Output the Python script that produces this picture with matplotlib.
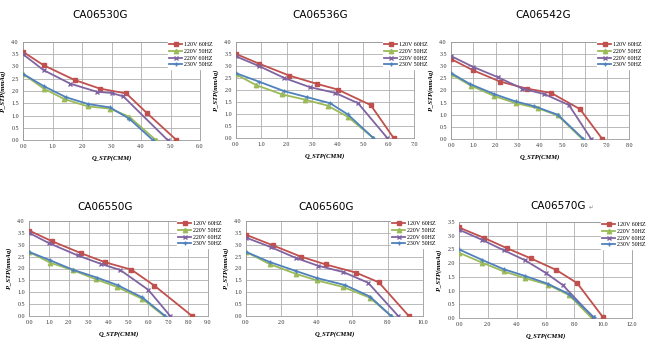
import numpy as np
import matplotlib
matplotlib.use('Agg')
import matplotlib.pyplot as plt

W, H = 648, 349

titles = ['CA06530G', 'CA06536G', 'CA06542G', 'CA06550G', 'CA06560G', 'CA06570G']
series_names = ['120V 60HZ', '220V 50HZ', '220V 60HZ', '230V 50HZ']

# (x values, y values) per series, per panel
red_30 = ([0, 0.7, 1.75, 2.6, 3.5, 4.2, 5.2], [3.6, 3.05, 2.45, 2.1, 1.9, 1.1, 0])
green_30 = ([0, 0.7, 1.4, 2.2, 2.95, 3.6, 4.5], [2.7, 2.1, 1.67, 1.37, 1.28, 0.95, 0])
purple_30 = ([0, 0.7, 1.6, 2.5, 3.0, 3.4, 4.9], [3.5, 2.85, 2.3, 1.97, 1.92, 1.78, 0])
blue_30 = ([0, 0.7, 1.45, 2.2, 2.95, 3.6, 4.4], [2.7, 2.2, 1.75, 1.47, 1.33, 0.87, 0])

red_36 = ([0, 0.9, 2.1, 3.2, 4.0, 5.3, 6.2], [3.5, 3.1, 2.6, 2.25, 2.02, 1.37, 0])
green_36 = ([0, 0.8, 1.8, 2.7, 3.6, 4.4, 5.4], [2.65, 2.2, 1.82, 1.6, 1.35, 0.88, 0])
purple_36 = ([0, 0.9, 1.9, 2.9, 3.9, 4.8, 5.95], [3.4, 3.0, 2.5, 2.12, 1.88, 1.45, 0])
blue_36 = ([0, 0.9, 1.9, 2.8, 3.7, 4.4, 5.4], [2.7, 2.35, 1.95, 1.7, 1.45, 0.98, 0])

red_42 = ([0, 1.0, 2.2, 3.4, 4.5, 5.8, 6.8], [3.3, 2.83, 2.37, 2.08, 1.9, 1.23, 0])
green_42 = ([0, 0.9, 1.95, 2.9, 3.9, 4.8, 5.9], [2.67, 2.2, 1.77, 1.48, 1.27, 0.97, 0])
purple_42 = ([0, 1.0, 2.1, 3.2, 4.2, 5.3, 6.3], [3.42, 2.97, 2.55, 2.08, 1.85, 1.4, 0])
blue_42 = ([0, 0.85, 1.95, 2.9, 3.75, 4.8, 5.95], [2.72, 2.27, 1.85, 1.55, 1.35, 1.0, 0])

red_50 = ([0, 1.15, 2.6, 3.8, 5.15, 6.3, 8.2], [3.6, 3.15, 2.65, 2.27, 1.95, 1.28, 0])
green_50 = ([0, 1.05, 2.2, 3.35, 4.4, 5.7, 6.8], [2.7, 2.25, 1.93, 1.55, 1.23, 0.72, 0])
purple_50 = ([0, 1.0, 2.45, 3.6, 4.6, 6.0, 7.1], [3.5, 3.07, 2.55, 2.2, 1.93, 1.1, 0])
blue_50 = ([0, 1.05, 2.2, 3.4, 4.45, 5.7, 6.85], [2.7, 2.35, 1.95, 1.62, 1.3, 0.78, 0])

red_60 = ([0, 1.5, 3.1, 4.5, 6.2, 7.5, 9.2], [3.42, 2.98, 2.5, 2.17, 1.83, 1.42, 0])
green_60 = ([0, 1.35, 2.8, 4.0, 5.5, 7.0, 8.2], [2.7, 2.18, 1.78, 1.5, 1.22, 0.77, 0])
purple_60 = ([0, 1.4, 2.8, 4.05, 5.5, 6.9, 8.6], [3.3, 2.9, 2.45, 2.12, 1.85, 1.4, 0])
blue_60 = ([0, 1.35, 2.8, 4.0, 5.6, 7.0, 8.2], [2.7, 2.27, 1.9, 1.6, 1.3, 0.82, 0])

red_70 = ([0, 1.7, 3.3, 5.0, 6.75, 8.2, 10.0], [3.3, 2.93, 2.55, 2.17, 1.75, 1.27, 0.02])
green_70 = ([0, 1.6, 3.1, 4.6, 6.15, 7.65, 9.2], [2.38, 2.02, 1.7, 1.45, 1.22, 0.83, 0])
purple_70 = ([0, 1.6, 3.1, 4.6, 6.0, 7.2, 9.3], [3.22, 2.85, 2.47, 2.1, 1.65, 1.2, 0.03])
blue_70 = ([0, 1.6, 3.1, 4.6, 6.15, 7.6, 9.35], [2.5, 2.12, 1.78, 1.53, 1.25, 0.88, 0.03])

panel_data = [
    [red_30, green_30, purple_30, blue_30],
    [red_36, green_36, purple_36, blue_36],
    [red_42, green_42, purple_42, blue_42],
    [red_50, green_50, purple_50, blue_50],
    [red_60, green_60, purple_60, blue_60],
    [red_70, green_70, purple_70, blue_70],
]
xmax = [6, 7, 8, 9, 10, 12]
ymax = [4, 4, 4, 4, 4, 3.5]

colors = ['#C0504D', '#9BBB59', '#8064A2', '#4F81BD']
markers = ['s', '^', 'x', '+']

# axes boxes in pixels: left, top, right, bottom
boxes = [
    (23, 42, 200, 140),
    (236, 42, 414, 138),
    (451, 42, 629, 139),
    (29, 221, 208, 316),
    (246, 221, 423, 316),
    (459, 222, 632, 318),
]
title_pos = [(100, 15), (320, 15), (543, 15), (105, 207), (326, 207), (558, 206)]
legend_left = [168, 383, 597, 177, 391, 601]

fig = plt.figure(figsize=(W / 100, H / 100), dpi=100)

for i in range(6):
    l, t, r, b = boxes[i]
    ax = fig.add_axes([l / W, 1 - b / H, (r - l) / W, (b - t) / H])
    for j, (xs, ys) in enumerate(panel_data[i]):
        ax.plot(xs, ys, color=colors[j], lw=1.3, marker=markers[j], ms=3.2,
                mew=1.0, label=series_names[j], zorder=3)
    ax.set_xlim(0, xmax[i])
    ax.set_ylim(0, ymax[i])
    ax.set_xticks(np.arange(0, xmax[i] + 0.01, 2 if xmax[i] >= 10 else 1))
    ax.set_yticks(np.arange(0, ymax[i] + 0.01, 0.5))
    ax.xaxis.set_major_formatter(matplotlib.ticker.FormatStrFormatter('%.1f'))
    ax.yaxis.set_major_formatter(matplotlib.ticker.FormatStrFormatter('%.1f'))
    ax.grid(True, color='#b0b0b0', lw=0.6)
    ax.set_axisbelow(True)
    for s in ax.spines.values():
        s.set_color('#999999')
        s.set_linewidth(0.6)
    ax.tick_params(labelsize=4.3, length=0, pad=3, labelcolor='#333333')
    for lab in ax.get_xticklabels() + ax.get_yticklabels():
        lab.set_family('Liberation Serif')
    ax.set_xlabel('Q_STP(CMM)', fontsize=4.8, family='Liberation Serif',
                  style='italic', weight='bold', labelpad=4)
    ax.set_ylabel('P_STP(mmAq)', fontsize=4.8, family='Liberation Serif',
                  style='italic', weight='bold', labelpad=4)
    lx = (legend_left[i] - l) / (r - l)
    leg = ax.legend(loc='upper left', bbox_to_anchor=(lx, 1.01), frameon=True,
                    fancybox=False, framealpha=1, edgecolor='white',
                    prop={'family': 'Liberation Serif', 'size': 4.3},
                    handlelength=2.2, handletextpad=0.3, labelspacing=0.25,
                    borderpad=0.2, borderaxespad=0)
    leg.set_zorder(5)
    tx, ty = title_pos[i]
    fig.text(tx / W, 1 - ty / H, titles[i], ha='center', va='center',
             fontsize=7.5, family='DejaVu Sans')

fig.text(589 / W, 1 - 208 / H, '\u21b5', ha='left', va='center',
         fontsize=4, color='#888888', family='DejaVu Sans')

fig.savefig('out.png', dpi=100, facecolor='white')
